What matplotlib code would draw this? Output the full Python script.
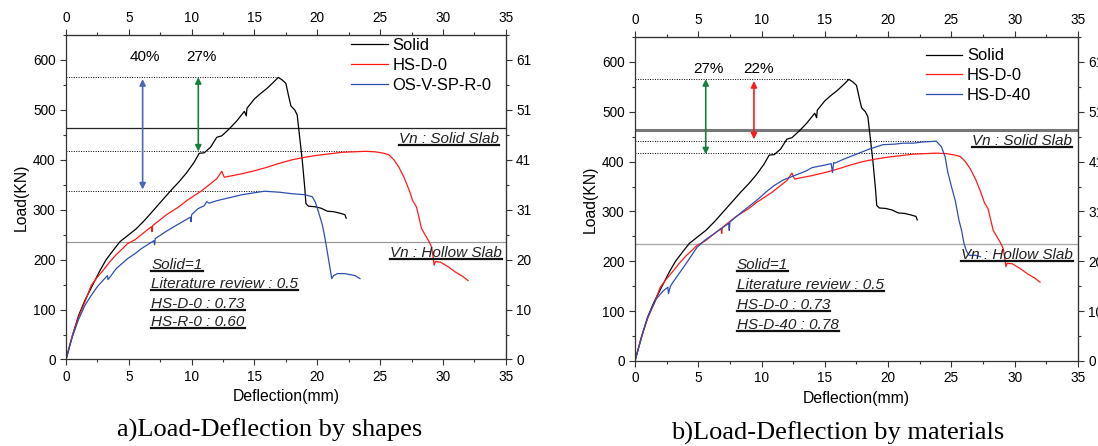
import matplotlib
matplotlib.use('Agg')
import matplotlib.pyplot as plt
from matplotlib.lines import Line2D
from matplotlib.ticker import MultipleLocator

plt.rcParams['font.family'] = ['Liberation Sans', 'DejaVu Sans']

# ---- data ----
solid_x = [0, 0.3, 0.6, 1.0, 1.5, 2.0, 2.3, 2.7, 3.2, 3.8, 4.3, 5.0, 5.6, 6.3, 7.0, 7.7, 8.4,
           9.0, 9.6, 10.2, 10.6, 11.0, 11.5, 12.0, 12.4, 13.0, 13.6, 14.2, 14.35, 14.4, 15.0,
           15.5, 16.0, 16.5, 16.9, 17.2, 17.5, 17.7, 17.9, 18.2, 18.4, 18.6, 18.8, 19.0, 19.1,
           19.3, 19.8, 20.3, 20.8, 21.3, 21.8, 22.2, 22.3]
solid_y = [0, 28, 55, 88, 118, 143, 158, 178, 200, 220, 236, 250, 262, 280, 300, 320, 340,
           356, 374, 395, 413, 414, 425, 445, 448, 462, 478, 497, 488, 503, 522,
           533, 543, 555, 565, 560, 553, 530, 508, 500, 490, 445, 400, 345, 312,
           307, 306, 303, 297, 296, 293, 290, 283]

hsd0_x = [0, 0.5, 1.0, 1.5, 2.0, 2.5, 3.0, 3.5, 4.0, 4.5, 4.9, 5.5, 6.0, 6.8, 6.85, 6.9, 7.5,
          8.0, 9.0, 9.6, 10.2, 10.8, 11.4, 12.0, 12.4, 12.6, 13.2, 14.0, 15.0, 16.0, 17.0,
          18.0, 19.0, 20.0, 21.0, 22.0, 23.0, 23.8, 24.6, 25.3, 25.7, 26.1, 26.5, 26.9, 27.3,
          27.6, 27.9, 28.3, 28.9, 29.1, 29.25, 29.3, 29.4, 29.8, 30.4, 31.0, 31.6, 32.0]
hsd0_y = [0, 48, 85, 115, 148, 165, 180, 196, 210, 222, 232, 240, 250, 266, 256, 268, 280,
          290, 306, 318, 328, 338, 350, 362, 377, 365, 368, 372, 378, 385, 393,
          400, 405, 409, 412, 415, 416, 417, 416, 413, 410, 400, 385, 365, 340,
          318, 305, 262, 236, 225, 200, 189, 196, 195, 186, 175, 166, 158]

osv_x = [0, 0.5, 1.0, 1.5, 2.0, 2.5, 3.0, 3.3, 3.35, 4.0, 4.9, 5.5, 6.0, 7.0, 7.05, 7.1,
         8.0, 9.0, 9.9, 9.95, 10.0, 10.5, 11.0, 11.2, 11.4, 12.0, 13.0, 14.0, 15.0, 15.8,
         17.0, 18.0, 19.0, 19.6, 19.85, 20.1, 20.4, 20.6, 20.8, 21.0, 21.15, 21.3, 21.6,
         22.2, 23.0, 23.4]
osv_y = [0, 45, 80, 108, 128, 146, 160, 168, 160, 182, 202, 212, 222, 238, 230, 242,
         257, 272, 285, 276, 290, 302, 308, 316, 313, 318, 324, 330, 334, 337,
         335, 332, 330, 326, 315, 295, 270, 245, 215, 185, 162, 168, 172,
         172, 168, 162]

hsd40_x = [0, 0.6, 1.0, 1.7, 2.2, 2.6, 2.65, 2.8, 3.0, 3.5, 4.0, 4.9, 5.5, 6.5, 7.4, 7.45,
           7.5, 8.5, 9.6, 10.4, 11.0, 11.7, 12.3, 13.0, 13.5, 14.0, 15.0, 15.5, 15.6, 15.7,
           15.8, 16.5, 17.5, 18.5, 19.6, 20.5, 21.2, 22.0, 22.6, 23.2, 23.8, 24.2, 24.5,
           24.7, 25.0, 25.3, 25.6, 25.8, 26.0, 26.2, 26.4, 26.9, 27.3]
hsd40_y = [0, 55, 88, 125, 140, 148, 135, 150, 158, 176, 194, 228, 242, 260, 276, 262,
           279, 300, 322, 340, 352, 363, 369, 376, 381, 388, 393, 396, 378, 398,
           397, 405, 415, 425, 434, 435, 437, 437, 439, 440, 441, 430, 410,
           380, 350, 322, 282, 262, 235, 220, 212, 212, 209]

x_ticks = [0, 5, 10, 15, 20, 25, 30, 35]
y_ticks = [0, 100, 200, 300, 400, 500, 600]
right_labels = ['0', '10', '20', '31', '41', '51', '61']

vn_solid = 463
vn_hollow = 235

left_notes = ['Solid=1', 'Literature review : 0.5', 'HS-D-0 : 0.73', 'HS-R-0 : 0.60']
right_notes = ['Solid=1', 'Literature review : 0.5', 'HS-D-0 : 0.73', 'HS-D-40 : 0.78']

RED = '#ff1a1a'
BLUE = '#2f4fb0'
GREEN = '#17803c'
ABLUE = '#4a68b8'

fig = plt.figure(figsize=(10.98, 4.46), dpi=100)
ax1 = fig.add_axes([0.0601, 0.194, 0.4005, 0.7276])
ax2 = fig.add_axes([0.5783, 0.1906, 0.4035, 0.7265])

underlined = []


def setup(ax):
    ax.set_xlim(0, 35)
    ax.set_ylim(0, 650)
    ax.set_xticks(x_ticks)
    ax.set_yticks(y_ticks)
    ax.xaxis.set_minor_locator(MultipleLocator(2.5))
    ax.yaxis.set_minor_locator(MultipleLocator(50))
    ax.tick_params(which='both', direction='out', labelsize=9.8, color='#333333', width=0.8)
    ax.tick_params(which='major', length=4)
    ax.tick_params(which='minor', length=2.5)
    for s in ax.spines.values():
        s.set_color('#333333')
        s.set_linewidth(0.9)
    ax.set_xlabel('Deflection(mm)', fontsize=11.3)
    ax.set_ylabel('Load(KN)', fontsize=11.3, labelpad=3)

    # top axis
    top = ax.secondary_xaxis('top')
    top.set_xticks(x_ticks)
    top.xaxis.set_minor_locator(MultipleLocator(2.5))
    top.tick_params(which='both', direction='out', labelsize=9.8, color='#333333', width=0.8)
    top.tick_params(which='major', length=4)
    top.tick_params(which='minor', length=2.5)
    top.spines['top'].set_color('#333333')

    # right axis with its own labels
    rt = ax.twinx()
    rt.set_ylim(0, 650)
    rt.set_yticks(y_ticks)
    rt.set_yticklabels(right_labels)
    rt.yaxis.set_minor_locator(MultipleLocator(50))
    rt.tick_params(which='both', direction='out', labelsize=9.8, color='#333333', width=0.8)
    rt.tick_params(which='major', length=4)
    rt.tick_params(which='minor', length=2.5)
    for s in rt.spines.values():
        s.set_visible(False)
    rt.spines['right'].set_visible(True)
    rt.spines['right'].set_color('#333333')


def note(ax, x, y, s, **kw):
    t = ax.text(x, y, s, fontsize=11, style='italic', va='center', color='#222222', **kw)
    underlined.append(t)
    return t


# ---- panel a ----
setup(ax1)
ax1.axhline(vn_solid, color='#222222', lw=0.9)
ax1.axhline(vn_hollow, color='#999999', lw=0.9)
ax1.plot([0, 16.9], [565, 565], color='k', ls=(0, (1, 1.5)), lw=0.7)
ax1.plot([0, 23.8], [417, 417], color='k', ls=(0, (1, 1.5)), lw=0.7)
ax1.plot([0, 15.8], [337, 337], color='k', ls=(0, (1, 1.5)), lw=0.7)
ax1.plot(solid_x, solid_y, color='k', lw=0.9, label='Solid')
ax1.plot(hsd0_x, hsd0_y, color=RED, lw=0.9, label='HS-D-0')
ax1.plot(osv_x, osv_y, color=BLUE, lw=0.9, label='OS-V-SP-R-0')
ax1.annotate('', xy=(6.1, 567), xytext=(6.1, 335),
             arrowprops=dict(arrowstyle='<|-|>', color=ABLUE, lw=1.2, mutation_scale=9))
ax1.annotate('', xy=(10.53, 571), xytext=(10.53, 411),
             arrowprops=dict(arrowstyle='<|-|>', color=GREEN, lw=1.2, mutation_scale=9))
ax1.text(6.29, 605, '40%', fontsize=11, ha='center', va='center')
ax1.text(10.75, 605, '27%', fontsize=11, ha='center', va='center')
note(ax1, 34.5, 441, 'Vn : Solid Slab', ha='right')
note(ax1, 34.7, 213, 'Vn : Hollow Slab', ha='right')
for s, yy in zip(left_notes, [189, 152, 112, 75]):
    note(ax1, 6.8, yy, s, ha='left')
ax1.legend(loc='upper left', bbox_to_anchor=(0.649, 0.99), frameon=False, fontsize=11.9,
           handlelength=2.2, handletextpad=0.3, labelspacing=0.3, borderpad=0, borderaxespad=0)

# ---- panel b ----
setup(ax2)
ax2.axhline(vn_solid, color='#777777', lw=2.2)
ax2.axhline(vn_hollow, color='#aaaaaa', lw=1.0)
ax2.plot([0, 16.9], [565, 565], color='k', ls=(0, (1, 1.5)), lw=0.7)
ax2.plot([0, 23.8], [441, 441], color='k', ls=(0, (1, 1.5)), lw=0.7)
ax2.plot([0, 23.8], [417, 417], color='k', ls=(0, (1, 1.5)), lw=0.7)
ax2.plot(solid_x, solid_y, color='k', lw=0.9, label='Solid')
ax2.plot(hsd0_x, hsd0_y, color=RED, lw=0.9, label='HS-D-0')
ax2.plot(hsd40_x, hsd40_y, color=BLUE, lw=0.9, label='HS-D-40')
ax2.annotate('', xy=(5.59, 571), xytext=(5.59, 409),
             arrowprops=dict(arrowstyle='<|-|>', color=GREEN, lw=1.2, mutation_scale=9))
ax2.annotate('', xy=(9.4, 567), xytext=(9.4, 439),
             arrowprops=dict(arrowstyle='<|-|>', color=RED, lw=1.2, mutation_scale=9))
ax2.text(5.79, 585, '27%', fontsize=11, ha='center', va='center')
ax2.text(9.74, 585, '22%', fontsize=11, ha='center', va='center')
note(ax2, 34.5, 441, 'Vn : Solid Slab', ha='right')
note(ax2, 34.6, 212, 'Vn : Hollow Slab', ha='right')
for s, yy in zip(right_notes, [192, 152, 112, 72]):
    note(ax2, 8.05, yy, s, ha='left')
ax2.legend(loc='upper left', bbox_to_anchor=(0.656, 0.965), frameon=False, fontsize=11.9,
           handlelength=2.2, handletextpad=0.3, labelspacing=0.3, borderpad=0, borderaxespad=0)

# captions
fig.text(270 / 1098, 1 - 430 / 446, 'a)Load-Deflection by shapes', family='Liberation Serif',
         fontsize=19, ha='center', va='center')
fig.text(838 / 1098, 1 - 433 / 446, 'b)Load-Deflection by materials', family='Liberation Serif',
         fontsize=19, ha='center', va='center')

# underline the italic notes
fig.canvas.draw()
r = fig.canvas.get_renderer()
inv = fig.transFigure.inverted()
for t in underlined:
    bb = t.get_window_extent(r)
    (x0, y0), (x1, _) = inv.transform([(bb.x0, bb.y0 + 1), (bb.x1, bb.y0 + 1)])
    fig.add_artist(Line2D([x0, x1], [y0, y0], transform=fig.transFigure, color='#111111', lw=1.6))

fig.savefig('out.png', dpi=100)
